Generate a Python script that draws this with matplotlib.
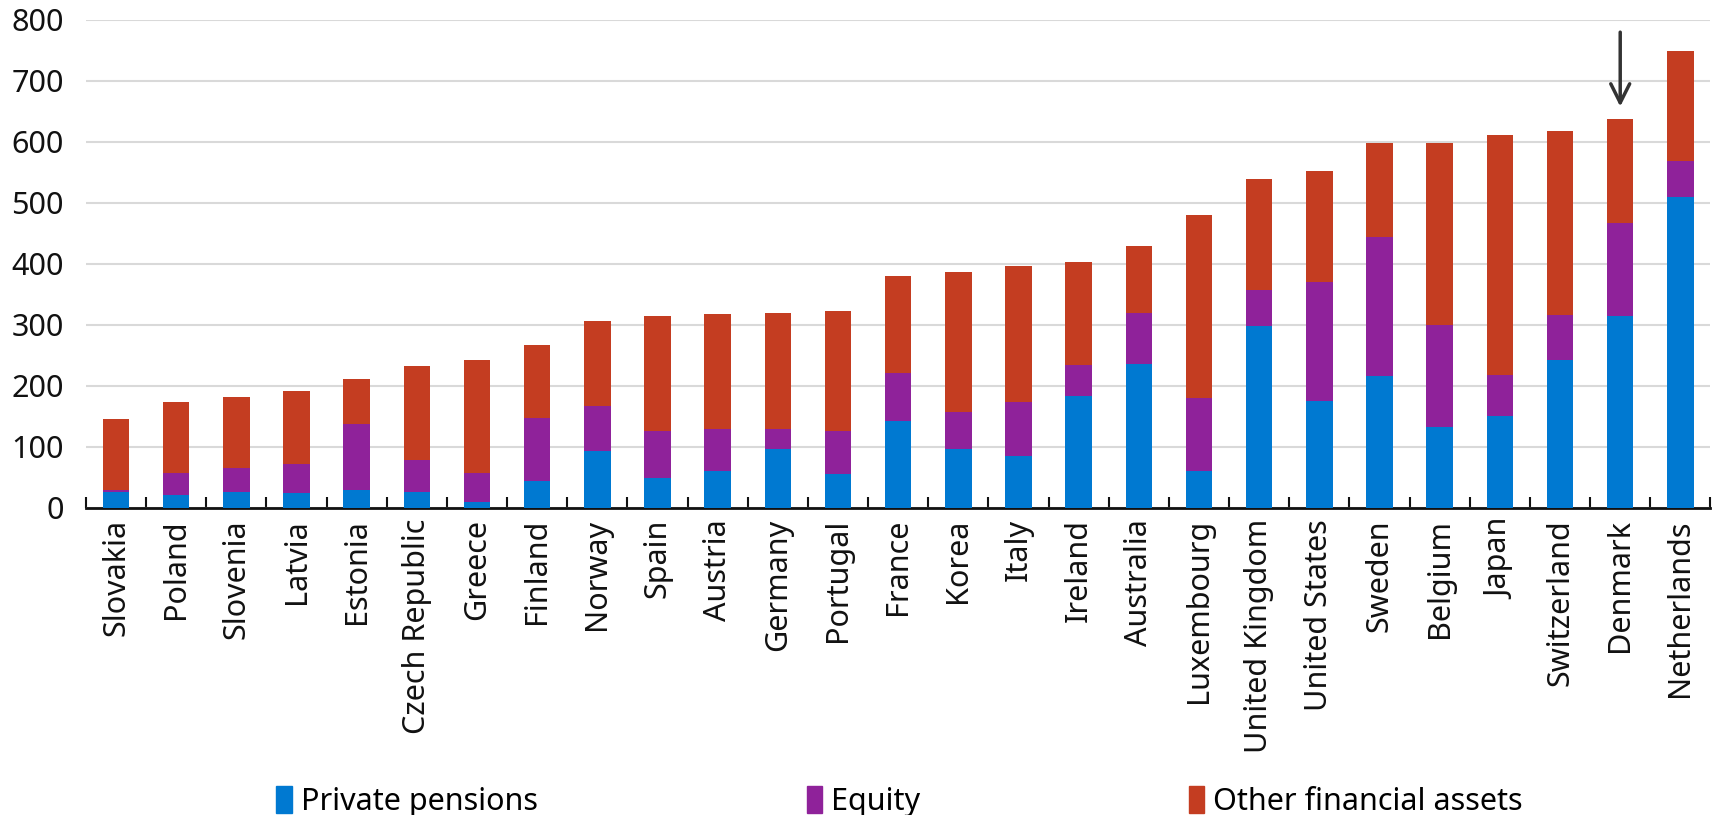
import matplotlib
matplotlib.use("Agg")
import matplotlib.pyplot as plt
from matplotlib.patches import Patch
import numpy as np

countries = ["Slovakia", "Poland", "Slovenia", "Latvia", "Estonia", "Czech Republic",
             "Greece", "Finland", "Norway", "Spain", "Austria", "Germany", "Portugal",
             "France", "Korea", "Italy", "Ireland", "Australia", "Luxembourg",
             "United Kingdom", "United States", "Sweden", "Belgium", "Japan",
             "Switzerland", "Denmark", "Netherlands"]

# cumulative tops
pensions = [27, 22, 27, 24, 30, 27, 9, 45, 93, 49, 61, 97, 55, 142, 97, 85, 183, 236,
            60, 299, 176, 217, 133, 150, 243, 315, 510]
pens_equity_top = [29, 58, 66, 72, 137, 78, 58, 148, 167, 127, 130, 130, 127, 222, 158,
                   174, 235, 320, 180, 357, 371, 444, 300, 218, 316, 467, 568]
totals = [146, 173, 182, 192, 211, 233, 243, 267, 307, 314, 318, 319, 323, 381, 387,
          396, 403, 430, 481, 539, 552, 598, 599, 611, 618, 638, 749]

series_names = ["Private pensions", "Equity", "Other financial assets"]
colors = ["#0079D1", "#8F229A", "#C43D21"]

pensions = np.array(pensions)
equity = np.array(pens_equity_top) - pensions
other = np.array(totals) - np.array(pens_equity_top)

plt.rcParams['font.family'] = ['Noto Sans', 'DejaVu Sans']
FS = 22

fig = plt.figure(figsize=(17.33, 8.15), dpi=100)
ax = fig.add_axes([0.0496, 0.3767, 0.9374, 0.5988])

x = np.arange(len(countries))
w = 0.44
ax.bar(x, pensions, w, color=colors[0], zorder=3)
ax.bar(x, equity, w, bottom=pensions, color=colors[1], zorder=3)
ax.bar(x, other, w, bottom=pensions + equity, color=colors[2], zorder=3)

ax.set_xlim(-0.5, len(countries) - 0.5)
ax.set_ylim(0, 800)
ax.set_yticks(np.arange(0, 801, 100))
ax.yaxis.grid(True, color="#d9d9d9", linewidth=1.5, zorder=0)
ax.set_axisbelow(True)
for s in ["left", "right", "top"]:
    ax.spines[s].set_visible(False)
ax.spines["bottom"].set_linewidth(2)
ax.spines["bottom"].set_color("#111111")
ax.tick_params(axis="y", length=0, pad=16, labelsize=FS, colors="#111111")

ax.set_xticks(x)
ax.set_xticklabels(countries, rotation=90, fontsize=FS, color="#111111")
ax.tick_params(axis="x", which="major", length=0, pad=8)
ax.set_xticks(np.arange(-0.5, len(countries), 1.0), minor=True)
ax.tick_params(axis="x", which="minor", direction="in", length=8, width=1.5, color="#111111")

di = countries.index("Denmark")
ax.annotate("", xy=(di, 658), xytext=(di, 780),
            arrowprops=dict(arrowstyle="->", color="#333333", lw=2.5,
                            mutation_scale=34, shrinkA=0, shrinkB=0))

handles = [Patch(color=c, label=n) for c, n in zip(colors, series_names)]
fig.legend(handles=handles, loc="center left", bbox_to_anchor=(0.1594, 0.017), ncol=3,
           frameon=False, fontsize=FS, handlelength=0.5, handleheight=1.0,
           handletextpad=0.3, columnspacing=8.8, borderpad=0, borderaxespad=0)

fig.savefig("out.png", dpi=100)
